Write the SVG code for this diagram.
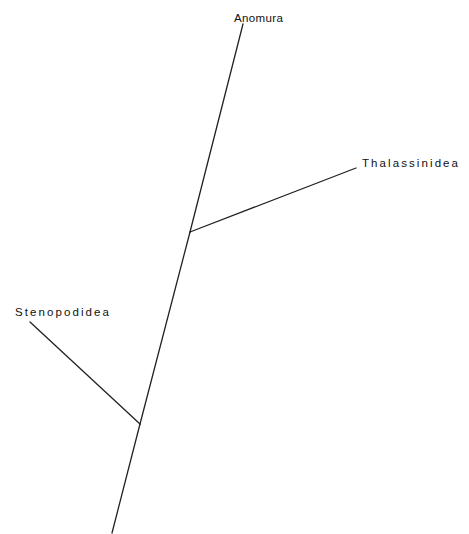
<svg xmlns="http://www.w3.org/2000/svg" width="469" height="534" viewBox="0 0 469 534">
<style>
.e{stroke:#222;stroke-width:1.3;fill:none;stroke-linecap:round}
.t{font-family:"Liberation Sans",Arial,sans-serif;font-size:11.5px;fill:#111}
</style>
<rect width="469" height="534" fill="#fff"/>
<g id="connectors">
<line class="e" x1="112" y1="533" x2="140" y2="424"/>
<line class="e" x1="140" y1="424" x2="190" y2="232"/>
<line class="e" x1="190" y1="232" x2="243" y2="24"/>
<line class="e" x1="190" y1="232" x2="356" y2="168"/>
<line class="e" x1="140" y1="424" x2="30" y2="322"/>
</g>
<g id="anomura"><text class="t" x="234" y="22" textLength="49">Anomura</text></g>
<g id="thalassinidea"><text class="t" x="362" y="167" textLength="96">Thalassinidea</text></g>
<g id="stenopodidea"><text class="t" x="15" y="316" textLength="94">Stenopodidea</text></g>
</svg>
